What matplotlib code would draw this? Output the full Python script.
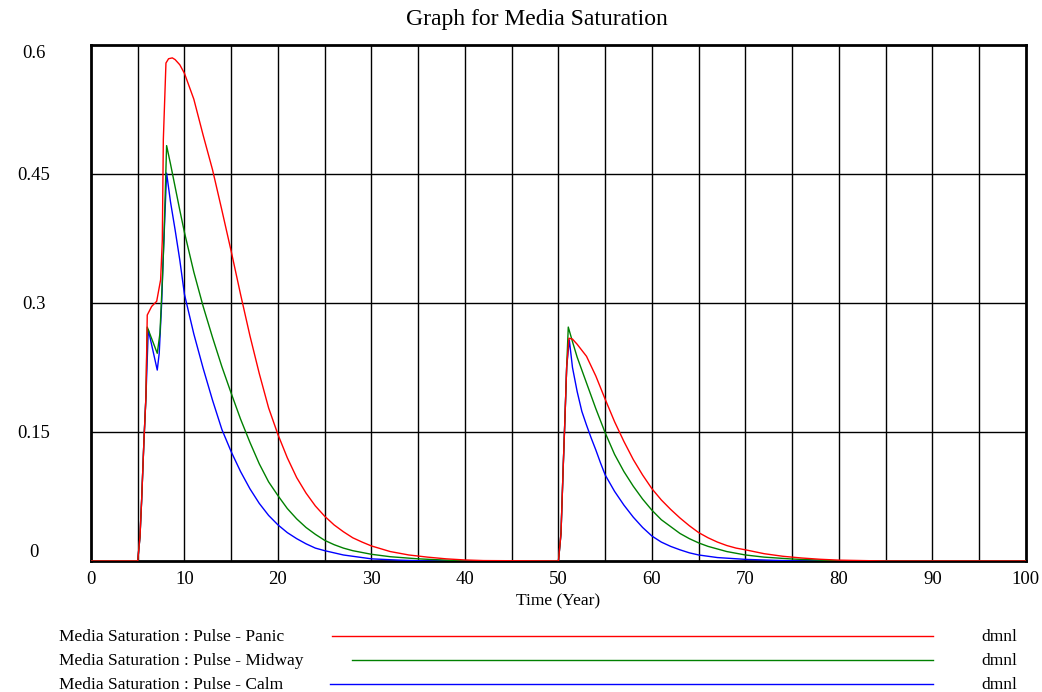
import matplotlib
matplotlib.use("Agg")
import matplotlib.pyplot as plt
from matplotlib.lines import Line2D

plt.rcParams['font.family'] = ['Liberation Serif', 'DejaVu Serif']

# Media Saturation runs (Time in years, value dmnl)
t_panic = [0, 5.0, 5.24, 5.42, 5.53, 5.67, 5.88, 6.02, 6.49, 7.03, 7.45, 7.63, 7.74, 8.02, 8.3,
           8.7, 9.0, 9.5, 10, 11, 12, 13, 14, 15, 16, 17, 18, 19, 20, 21, 22, 23, 24, 25, 26, 27,
           28, 29, 30, 32, 34, 36, 38, 40, 42, 50.0,
           50.27, 50.51, 50.7, 50.88, 51.12, 51.5, 52, 53, 54, 55, 56, 57, 58, 59, 60, 61, 62, 63,
           64, 65, 66, 67, 68, 69, 70, 72, 74, 76, 78, 80, 85, 100]
v_panic = [0, 0, 0.028, 0.071, 0.102, 0.141, 0.191, 0.286, 0.296, 0.302, 0.327, 0.373, 0.49, 0.579, 0.584,
           0.585, 0.583, 0.577, 0.567, 0.537, 0.495, 0.455, 0.408, 0.36, 0.31, 0.262, 0.218, 0.178,
           0.147, 0.12, 0.097, 0.079, 0.064, 0.052, 0.042, 0.034, 0.027, 0.022, 0.0175, 0.011, 0.007,
           0.0045, 0.0025, 0.0012, 0.0005, 0,
           0.032, 0.11, 0.168, 0.226, 0.259, 0.258, 0.252, 0.238, 0.215, 0.188, 0.162, 0.139, 0.118,
           0.1, 0.084, 0.071, 0.06, 0.05, 0.041, 0.033, 0.027, 0.022, 0.018, 0.015, 0.013, 0.0085,
           0.0055, 0.0035, 0.002, 0.001, 0, 0]

t_midway = [0, 5.0, 5.24, 5.42, 5.53, 5.67, 5.88, 6.02, 7.09, 7.38, 7.67, 7.8, 8.09, 8.5, 9.0, 9.5,
            10, 11, 12, 13, 14, 15, 16, 17, 18, 19, 20, 21, 22, 23, 24, 25, 26, 27, 28, 30, 32, 35,
            38, 40, 50.0,
            50.27, 50.51, 50.7, 50.88, 51.05, 51.5, 52, 53, 54, 55, 56, 57, 58, 59, 60, 61, 62, 63,
            64, 65, 66, 67, 68, 70, 72, 75, 78, 80, 100]
v_midway = [0, 0, 0.028, 0.071, 0.102, 0.141, 0.191, 0.272, 0.2415, 0.265, 0.335, 0.373, 0.483, 0.462,
            0.435, 0.408, 0.382, 0.336, 0.296, 0.26, 0.226, 0.195, 0.165, 0.138, 0.113, 0.092, 0.076,
            0.061, 0.049, 0.039, 0.031, 0.024, 0.019, 0.015, 0.012, 0.0078, 0.005, 0.0025, 0.001, 0, 0,
            0.032, 0.11, 0.168, 0.226, 0.272, 0.255, 0.237, 0.207, 0.177, 0.149, 0.124, 0.104, 0.087,
            0.072, 0.059, 0.048, 0.04, 0.032, 0.026, 0.021, 0.017, 0.014, 0.011, 0.007, 0.0045, 0.0023,
            0.001, 0, 0]

t_calm = [0, 5.0, 5.24, 5.42, 5.53, 5.67, 5.88, 6.13, 7.09, 7.3, 7.56, 7.73, 8.09, 8.5, 9.0, 9.5,
          10, 11, 12, 13, 14, 15, 16, 17, 18, 19, 20, 21, 22, 23, 24, 25, 27, 30, 33, 36, 50.0,
          50.27, 50.51, 50.7, 50.88, 51.16, 51.5, 52, 52.5, 53, 53.5, 54, 54.5, 55, 56, 57, 58, 59,
          60, 61, 62, 63, 64, 65, 67, 70, 73, 76, 100]
v_calm = [0, 0, 0.028, 0.071, 0.102, 0.141, 0.191, 0.269, 0.222, 0.2415, 0.30, 0.354, 0.451, 0.418,
          0.385, 0.35, 0.31, 0.264, 0.224, 0.187, 0.153, 0.127, 0.104, 0.084, 0.067, 0.053, 0.042,
          0.033, 0.026, 0.02, 0.015, 0.012, 0.007, 0.0025, 0.001, 0, 0,
          0.032, 0.11, 0.168, 0.226, 0.257, 0.225, 0.197, 0.174, 0.158, 0.143, 0.129, 0.114, 0.100,
          0.081, 0.065, 0.051, 0.039, 0.029, 0.022, 0.017, 0.013, 0.0095, 0.007, 0.004, 0.0019,
          0.0008, 0, 0]

series_names = ["Media Saturation : Pulse - Panic",
                "Media Saturation : Pulse - Midway",
                "Media Saturation : Pulse - Calm"]
colors = ["#ff0000", "#008000", "#0000ff"]
x_ticks = list(range(0, 101, 10))
y_ticks = [0, 0.15, 0.3, 0.45, 0.6]
y_labels = ["0", "0.15", "0.3", "0.45", "0.6"]

fig = plt.figure(figsize=(10.42, 6.92), dpi=100)
ax = fig.add_axes([0.0873, 0.1893, 0.8973, 0.7457])

# grid: every 5 years vertically, every 0.15 horizontally
for gx in range(5, 100, 5):
    ax.axvline(gx, color="black", lw=1.0, zorder=1)
for gy in y_ticks[1:-1]:
    ax.axhline(gy, color="black", lw=1.0, zorder=1)

ax.plot(t_calm, v_calm, color=colors[2], lw=1.0, zorder=3)
ax.plot(t_midway, v_midway, color=colors[1], lw=1.0, zorder=4)
ax.plot(t_panic, v_panic, color=colors[0], lw=1.0, zorder=5)

ax.set_xlim(0, 100)
ax.set_ylim(0, 0.6)
for s in ax.spines.values():
    s.set_linewidth(2.0)
    s.set_color("black")

ax.set_xticks(x_ticks)
ax.set_xticklabels([str(x) for x in x_ticks], fontsize=13.5)
ax.set_yticks(y_ticks)
ax.set_yticklabels(y_labels, fontsize=13.5, ha="center")
ax.tick_params(axis="x", length=0, pad=7)
ax.tick_params(axis="y", length=0, pad=41)
ylabs = ax.get_yticklabels()
ylabs[0].set_va("bottom")
ylabs[-1].set_va("top")

ax.set_xlabel("Time (Year)", fontsize=12.5, labelpad=4)
fig.text(0.515, 0.972, "Graph for Media Saturation", ha="center", va="center", fontsize=17)

# legend rows underneath the plot
W, H = 1042.0, 692.0
rows_y = [637, 661, 685]
line_x0 = [332, 352, 330]
for name, c, ry, x0 in zip(series_names, colors, rows_y, line_x0):
    fy = 1 - ry / H
    fig.text(59 / W, fy, name, ha="left", va="center", fontsize=12.5)
    fig.add_artist(Line2D([x0 / W, 933 / W], [fy + 1 / H, fy + 1 / H], color=c, lw=1.0))
    fig.text(1017 / W, fy, "dmnl", ha="right", va="center", fontsize=12.5)

fig.savefig("out.png", dpi=100)
